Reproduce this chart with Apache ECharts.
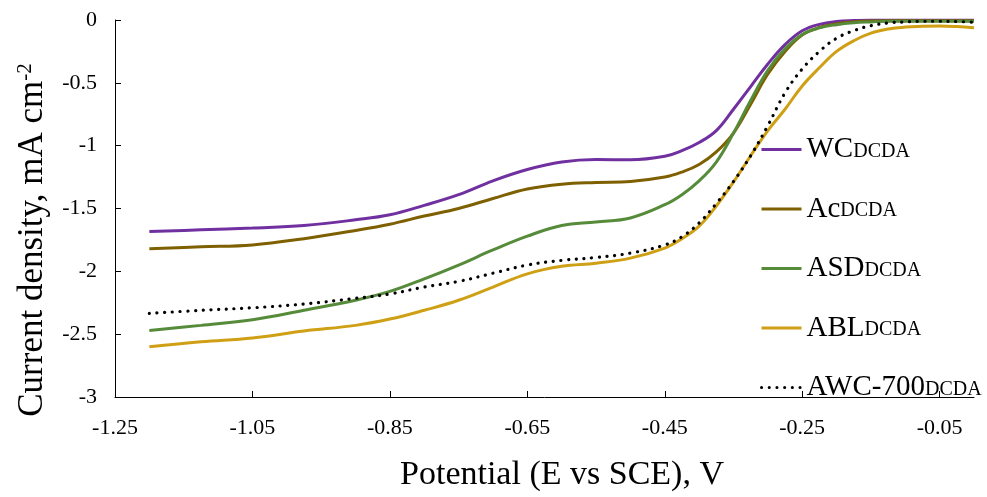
<!DOCTYPE html>
<html>
<head>
<meta charset="utf-8">
<script src="https://cdn.jsdelivr.net/npm/echarts@6/dist/echarts.min.js"></script>
<style>
html,body{margin:0;padding:0;background:#fff;}
#chart{width:987px;height:497px;}
</style>
</head>
<body>
<div id="chart"></div>
<script>
// Potential (E vs SCE), V
const potential = [-1.2, -1.125, -1.05, -0.975, -0.9, -0.85, -0.8, -0.75, -0.7, -0.65, -0.6, -0.55, -0.5, -0.45, -0.425, -0.4, -0.375, -0.35, -0.325, -0.3, -0.275, -0.25, -0.225, -0.2, -0.175, -0.15, -0.125, -0.1, -0.075, -0.05, -0.025, 0];

// Current density, mA cm-2
const wc = [-1.684, -1.67, -1.655, -1.635, -1.59, -1.55, -1.475, -1.39, -1.28, -1.19, -1.13, -1.11, -1.113, -1.085, -1.04, -0.975, -0.88, -0.71, -0.53, -0.35, -0.196, -0.086, -0.035, -0.012, -0.004, 0, 0, 0, 0, 0, 0, 0];
const ac = [-1.82, -1.805, -1.79, -1.74, -1.675, -1.625, -1.56, -1.50, -1.42, -1.345, -1.307, -1.293, -1.285, -1.25, -1.21, -1.15, -1.05, -0.90, -0.67, -0.43, -0.25, -0.12, -0.06, -0.03, -0.015, -0.008, -0.005, -0.005, -0.005, -0.005, -0.005, -0.005];
const asd = [-2.47, -2.43, -2.385, -2.31, -2.23, -2.16, -2.06, -1.95, -1.83, -1.72, -1.635, -1.607, -1.575, -1.47, -1.39, -1.28, -1.13, -0.90, -0.64, -0.40, -0.23, -0.115, -0.063, -0.037, -0.022, -0.015, -0.01, -0.01, -0.01, -0.01, -0.01, -0.01];
const abl = [-2.6, -2.56, -2.53, -2.475, -2.43, -2.38, -2.31, -2.23, -2.125, -2.02, -1.96, -1.935, -1.895, -1.815, -1.74, -1.64, -1.48, -1.29, -1.08, -0.88, -0.71, -0.525, -0.38, -0.25, -0.165, -0.105, -0.072, -0.056, -0.05, -0.047, -0.052, -0.062];
const awc700 = [-2.335, -2.31, -2.29, -2.26, -2.215, -2.18, -2.125, -2.08, -2.015, -1.95, -1.913, -1.89, -1.855, -1.79, -1.725, -1.615, -1.46, -1.285, -1.08, -0.84, -0.58, -0.39, -0.25, -0.145, -0.085, -0.045, -0.024, -0.015, -0.01, -0.01, -0.012, -0.018];

const seriesNames = ['WC', 'Ac', 'ASD', 'ABL', 'AWC-700'];
const subscript = 'DCDA';
const xTicks = [-1.25, -1.05, -0.85, -0.65, -0.45, -0.25, -0.05];
const yTicks = [0, -0.5, -1, -1.5, -2, -2.5, -3];

const values = [wc, ac, asd, abl, awc700];
const colors = ['#7030A0', '#7F6000', '#568B3A', '#CFA015', '#000000'];
const serif = '"Liberation Serif", "Times New Roman", serif';

const series = seriesNames.map((n, i) => {
  const dotted = i === 4;
  return {
    name: n,
    type: 'line',
    data: potential.map((p, k) => [p, values[i][k]]),
    smooth: 0.4,
    symbol: 'none',
    showSymbol: false,
    z: dotted ? 5 : 2 + i,
    lineStyle: dotted
      ? {color: '#000', width: 3.2, type: [0.1, 7.6], cap: 'round'}
      : {color: colors[i], width: 3},
    itemStyle: {color: colors[i]}
  };
});

const chart = echarts.init(document.getElementById('chart'), null, {renderer: 'canvas'});
chart.setOption({
  animation: false,
  backgroundColor: '#fff',
  grid: {left: 115, right: 13, top: 20, bottom: 94, containLabel: false},
  xAxis: {
    type: 'value',
    min: -1.25,
    max: 0,
    name: 'Potential (E vs SCE), V',
    nameLocation: 'middle',
    nameGap: 61,
    nameTextStyle: {fontFamily: serif, fontSize: 34, color: '#000', padding: [0, 0, 0, 35]},
    axisLine: {show: true, onZero: false, lineStyle: {color: '#000', width: 1}},
    axisTick: {show: true, inside: true, length: 6, customValues: xTicks, lineStyle: {color: '#000'}},
    axisLabel: {
      customValues: xTicks,
      margin: 20,
      fontFamily: serif, fontSize: 22, color: '#000',
      formatter: v => v.toFixed(2)
    },
    splitLine: {show: false}
  },
  yAxis: {
    type: 'value',
    min: -3,
    max: 0,
    name: '{a|Current density, mA cm}{b|-2}',
    nameLocation: 'middle',
    nameGap: 64,
    nameTextStyle: {
      fontFamily: serif, fontSize: 35, color: '#000',
      padding: [0, 63, 0, 0],
      rich: {
        a: {fontFamily: serif, fontSize: 35, color: '#000', lineHeight: 36},
        b: {fontFamily: serif, fontSize: 21, color: '#000', verticalAlign: 'top', lineHeight: 36, padding: [0, 0, 14, 0]}
      }
    },
    axisLine: {show: true, onZero: false, lineStyle: {color: '#000', width: 1}},
    axisTick: {show: true, inside: true, length: 6, customValues: yTicks, lineStyle: {color: '#000'}},
    axisLabel: {customValues: yTicks, margin: 18, fontFamily: serif, fontSize: 22, color: '#000'},
    splitLine: {show: false}
  },
  legend: {
    orient: 'vertical',
    left: 755,
    top: 130,
    itemWidth: 40,
    itemHeight: 14,
    itemGap: 28,
    data: seriesNames,
    itemStyle: {opacity: 0},
    lineStyle: {width: 3},
    formatter: n => '{a|' + n + '}{b|' + subscript + '}',
    textStyle: {
      fontFamily: serif, color: '#000',
      rich: {
        a: {fontFamily: serif, fontSize: 29, color: '#000', lineHeight: 34},
        b: {fontFamily: serif, fontSize: 20, color: '#000', lineHeight: 29, verticalAlign: 'bottom', padding: [0, 0, 5, 0]}
      }
    }
  },
  series: series
});
</script>
</body>
</html>
